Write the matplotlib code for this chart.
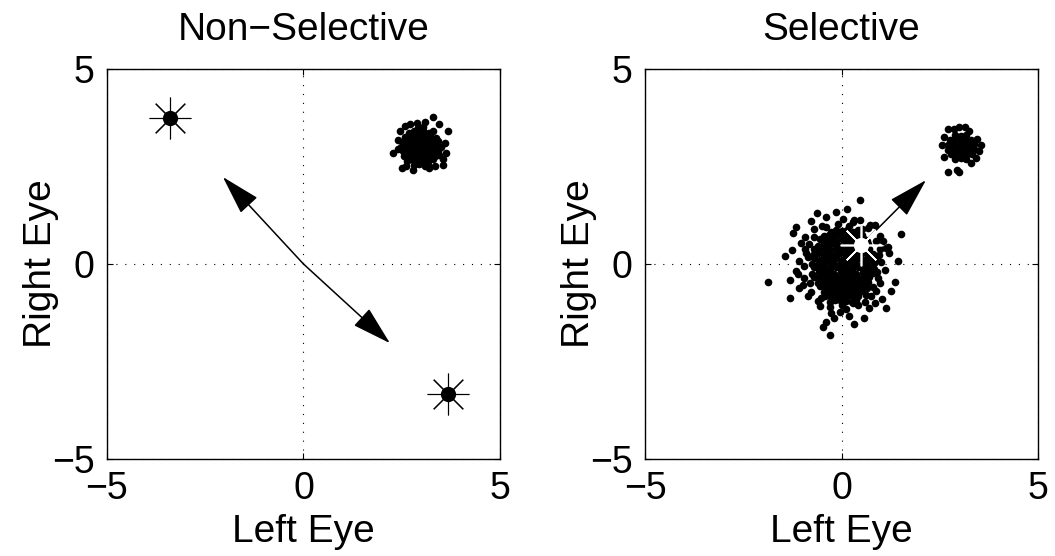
import matplotlib
matplotlib.use("Agg")
import matplotlib.pyplot as plt

plt.rcParams['font.family'] = ['Liberation Sans', 'DejaVu Sans']

titles = ["Non\u2212Selective", "Selective"]
ticks = [-5, 0, 5]

# left panel: cloud of responses around (3, 3)
left_cloud = [
    (2.92, 3.49), (3.05, 3.52),
    (2.68, 3.37), (2.81, 3.40), (2.94, 3.36), (3.07, 3.39), (3.20, 3.37), (3.30, 3.40),
    (2.58, 3.25), (2.71, 3.28), (2.84, 3.24), (2.97, 3.27), (3.10, 3.25), (3.23, 3.28), (3.38, 3.24),
    (2.52, 3.13), (2.65, 3.16), (2.78, 3.12), (2.91, 3.15), (3.04, 3.13), (3.17, 3.16), (3.30, 3.12), (3.43, 3.15),
    (2.49, 3.01), (2.62, 3.04), (2.75, 3.00), (2.88, 3.03), (3.01, 3.01), (3.14, 3.04), (3.27, 3.00), (3.40, 3.03), (3.50, 3.01),
    (2.52, 2.89), (2.65, 2.92), (2.78, 2.88), (2.91, 2.91), (3.04, 2.89), (3.17, 2.92), (3.30, 2.88), (3.43, 2.91),
    (2.56, 2.77), (2.69, 2.80), (2.82, 2.76), (2.95, 2.79), (3.08, 2.77), (3.21, 2.80), (3.34, 2.76), (3.44, 2.79),
    (2.64, 2.65), (2.77, 2.68), (2.90, 2.64), (3.03, 2.67), (3.16, 2.65), (3.29, 2.68),
    (2.82, 2.53), (2.95, 2.56), (3.08, 2.52), (3.18, 2.55),
    (3.29, 3.76), (3.67, 3.41), (2.28, 2.84), (2.50, 2.45), (2.79, 2.41), (3.55, 2.69),
    (2.41, 3.18), (2.58, 3.54), (2.88, 3.62), (3.60, 3.10), (3.55, 2.55), (3.20, 2.45),
    (2.40, 2.95), (3.45, 3.60), (3.10, 3.65), (2.45, 3.40), (2.62, 2.52), (3.62, 2.85),
    (2.70, 3.58), (3.35, 2.50),
]
left_stars = [(-3.40, 3.75), (3.68, -3.34)]
left_arrow_tips = [(-2.05, 2.23), (2.20, -2.03)]
left_origin = (0.0, 0.0)

# right panel: small cloud near (3, 3) and wide cloud around the origin
right_small = [
    (2.90, 3.31), (3.04, 3.28), (3.16, 3.32),
    (2.76, 3.17), (2.90, 3.20), (3.04, 3.16), (3.18, 3.19), (3.30, 3.17),
    (2.70, 3.05), (2.84, 3.08), (2.98, 3.04), (3.12, 3.07), (3.26, 3.05), (3.38, 3.08),
    (2.72, 2.93), (2.86, 2.96), (3.00, 2.92), (3.14, 2.95), (3.28, 2.93), (3.38, 2.96),
    (2.78, 2.81), (2.92, 2.84), (3.06, 2.80), (3.20, 2.83), (3.32, 2.81),
    (2.90, 2.69), (3.04, 2.72), (3.16, 2.68),
    (2.70, 3.45), (3.00, 3.50), (3.25, 3.42), (2.55, 3.05), (3.50, 2.90), (3.45, 3.20),
    (2.60, 2.75), (2.95, 2.40), (2.72, 2.36), (3.00, 2.36), (3.30, 2.60), (3.55, 3.05),
    (2.85, 3.45), (3.15, 3.50), (2.62, 3.25), (3.42, 2.72),
]
right_big = [
    (-0.27, 0.83), (-0.15, 0.88), (0.02, 0.84), (0.13, 0.87), (0.29, 0.82), (0.41, 0.86),
    (-0.44, 0.71), (-0.32, 0.75), (-0.16, 0.72), (-0.04, 0.76), (0.12, 0.70), (0.24, 0.74), (0.40, 0.72), (0.52, 0.75),
    (-0.55, 0.63), (-0.43, 0.59), (-0.27, 0.62), (-0.15, 0.60), (0.01, 0.63), (0.13, 0.59), (0.29, 0.62), (0.41, 0.60), (0.57, 0.63), (0.66, 0.58),
    (-0.60, 0.47), (-0.44, 0.51), (-0.32, 0.48), (-0.16, 0.50), (-0.04, 0.47), (0.12, 0.51), (0.24, 0.48), (0.40, 0.50), (0.52, 0.47), (0.68, 0.51),
    (-0.69, 0.39), (-0.57, 0.35), (-0.41, 0.38), (-0.29, 0.36), (-0.13, 0.39), (-0.01, 0.35), (0.15, 0.38), (0.27, 0.36), (0.43, 0.39), (0.55, 0.35), (0.71, 0.38),
    (-0.72, 0.23), (-0.60, 0.27), (-0.44, 0.24), (-0.32, 0.26), (-0.16, 0.23), (-0.04, 0.27), (0.12, 0.24), (0.24, 0.26), (0.40, 0.23), (0.52, 0.27), (0.68, 0.24), (0.80, 0.26),
    (-0.71, 0.15), (-0.55, 0.11), (-0.43, 0.14), (-0.27, 0.12), (-0.15, 0.15), (0.01, 0.11), (0.13, 0.14), (0.29, 0.12), (0.41, 0.15), (0.57, 0.11), (0.69, 0.14), (0.85, 0.12),
    (-0.74, -0.01), (-0.58, 0.03), (-0.46, 0.00), (-0.30, 0.02), (-0.18, -0.01), (-0.02, 0.03), (0.10, 0.00), (0.26, 0.02), (0.38, -0.01), (0.54, 0.03), (0.66, 0.00), (0.82, 0.02),
    (-0.69, -0.09), (-0.57, -0.13), (-0.41, -0.10), (-0.29, -0.12), (-0.13, -0.09), (-0.01, -0.13), (0.15, -0.10), (0.27, -0.12), (0.43, -0.09), (0.55, -0.13), (0.71, -0.10), (0.83, -0.12),
    (-0.74, -0.25), (-0.58, -0.21), (-0.46, -0.24), (-0.30, -0.22), (-0.18, -0.25), (-0.02, -0.21), (0.10, -0.24), (0.26, -0.22), (0.38, -0.25), (0.54, -0.21), (0.66, -0.24), (0.80, -0.22),
    (-0.69, -0.33), (-0.57, -0.37), (-0.41, -0.34), (-0.29, -0.36), (-0.13, -0.33), (-0.01, -0.37), (0.15, -0.34), (0.27, -0.36), (0.43, -0.33), (0.55, -0.37), (0.71, -0.34),
    (-0.60, -0.49), (-0.44, -0.45), (-0.32, -0.48), (-0.16, -0.46), (-0.04, -0.49), (0.12, -0.45), (0.24, -0.48), (0.40, -0.46), (0.52, -0.49), (0.68, -0.45),
    (-0.55, -0.57), (-0.43, -0.61), (-0.27, -0.58), (-0.15, -0.60), (0.01, -0.57), (0.13, -0.61), (0.29, -0.58), (0.41, -0.60), (0.57, -0.57), (0.65, -0.62),
    (-0.44, -0.73), (-0.32, -0.69), (-0.16, -0.72), (-0.04, -0.70), (0.12, -0.73), (0.24, -0.69), (0.40, -0.72), (0.52, -0.70),
    (-0.41, -0.81), (-0.27, -0.85), (-0.13, -0.82), (0.01, -0.84), (0.15, -0.81), (0.29, -0.85), (0.43, -0.82),
    (-0.30, -0.97), (-0.16, -0.93), (-0.02, -0.96), (0.12, -0.94), (0.26, -0.97), (0.38, -0.93),
    # scattered outer points
    (0.46, 1.63), (-1.24, 0.79), (1.52, 0.76), (-1.87, -0.45), (-1.32, -0.86), (1.36, -0.45),
    (1.14, -1.14), (-0.47, -1.62), (-0.29, -1.82), (0.33, -1.55), (0.56, -1.38), (1.43, 0.08),
    (-0.77, 1.09), (-0.14, 1.34), (-0.39, 1.21), (0.86, 0.99), (1.14, 0.42), (1.22, 0.29),
    (0.97, -0.48), (0.75, -0.82), (0.71, -1.14), (0.42, -1.05), (0.12, -1.16), (-0.26, -1.25),
    (-0.56, -1.08), (-0.86, -0.82), (-1.07, -0.61), (-1.11, -0.26), (-1.07, 0.08), (-0.94, 0.38),
    (-1.03, 0.55), (-0.69, 0.89), (-0.86, 0.18), (-1.17, -0.18), (-0.81, -0.50), (-0.09, 1.02),
    (0.33, 1.12), (0.67, 0.93), (0.97, 0.72), (-0.39, -1.50), (0.20, -1.33), (1.18, 0.44),
    (0.98, 0.39), (0.72, 1.00), (0.47, 1.13), (0.29, 1.08), (-0.50, 0.98), (0.05, 1.15),
    (0.90, -0.20), (1.00, 0.05), (-0.95, -0.35), (-0.60, -0.95), (0.00, -1.05), (0.60, -0.98),
    (0.88, -0.68), (-0.92, 0.70), (1.02, -0.90), (-0.20, -1.38), (-1.45, 0.20), (-0.62, 1.32),
    (0.15, 1.40), (1.25, -0.70),
    (-0.95, -0.05), (-0.90, 0.28), (-0.98, -0.55), (-0.78, -0.72), (-0.70, 0.68), (-0.82, 0.50),
    (0.92, -0.35), (0.95, 0.22), (0.88, 0.58), (0.80, -0.58), (0.62, -0.80), (-0.52, -0.88),
    (-0.30, -1.10), (0.28, -1.00), (0.52, 0.90), (-0.40, 0.95), (0.18, 0.98), (-1.25, 0.35),
    (-1.30, -0.40), (1.10, -0.15), (1.05, 0.60), (-0.05, -1.22), (0.85, -1.00), (-1.15, 0.95),
]
right_star = (0.50, 0.48)
right_arrow_tip = (2.15, 2.15)

fig = plt.figure(figsize=(10.55, 5.56), dpi=100)
ax1 = fig.add_axes([0.1014, 0.1745, 0.3725, 0.7014])
ax2 = fig.add_axes([0.6114, 0.1745, 0.3725, 0.7014])


def style(ax, title):
    ax.set_xlim(-5, 5)
    ax.set_ylim(-5, 5)
    ax.set_xticks(ticks)
    ax.set_yticks(ticks)
    ax.tick_params(direction='in', length=4, width=0.8, labelsize=27,
                   top=True, right=True, pad=9)
    ax.grid(True, color='k', linestyle=(0, (1, 7)), linewidth=0.8)
    ax.set_axisbelow(True)
    for s in ax.spines.values():
        s.set_linewidth(1.0)
    ax.set_title(title, fontsize=28, pad=21)
    ax.set_xlabel("Left Eye", fontsize=28, labelpad=5)
    ax.set_ylabel("Right Eye", fontsize=28, labelpad=-5)


def arrow(ax, start, tip):
    ax.annotate('', xy=tip, xytext=start,
                arrowprops=dict(arrowstyle='-|>,head_length=1.25,head_width=0.36',
                                mutation_scale=20, lw=1.1, color='k',
                                shrinkA=0, shrinkB=0), zorder=4)


dot = 5.5

# left panel
lx, ly = zip(*left_cloud)
ax1.plot(lx, ly, 'o', color='k', ms=dot, mew=0, zorder=3)
sx, sy = zip(*left_stars)
ax1.plot(sx, sy, 'o', color='k', ms=11, mew=0, zorder=5)
ax1.plot(sx, sy, marker=(8, 2, 0), ls='none', color='k', ms=30, mew=0.8, zorder=5)
for tip in left_arrow_tips:
    arrow(ax1, left_origin, tip)
style(ax1, titles[0])

# right panel
rx, ry = zip(*right_small)
ax2.plot(rx, ry, 'o', color='k', ms=dot, mew=0, zorder=3)
bx, by = zip(*right_big)
ax2.plot(bx, by, 'o', color='k', ms=dot, mew=0, zorder=3)
arrow(ax2, right_star, right_arrow_tip)
ax2.plot([right_star[0]], [right_star[1]], 'o', color='w', ms=11, mew=0, zorder=5)
ax2.plot([right_star[0]], [right_star[1]], marker=(8, 2, 0), ls='none', color='w',
         ms=30, mew=1.2, zorder=5)
style(ax2, titles[1])

fig.savefig('out.png', dpi=100)
